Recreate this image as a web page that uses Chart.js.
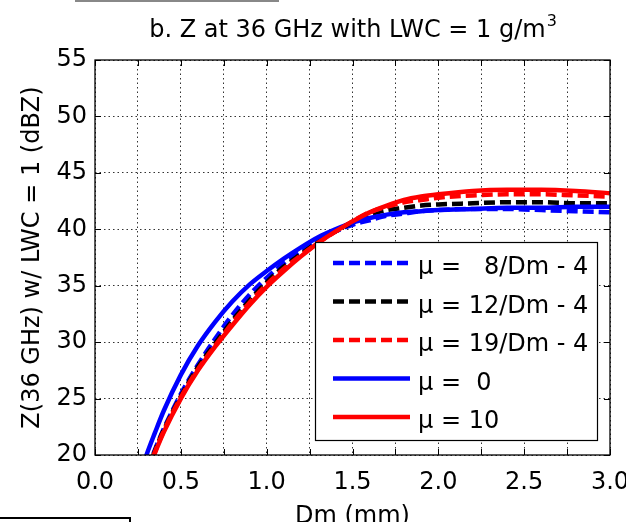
<!DOCTYPE html>
<html>
<head>
<meta charset="utf-8">
<script src="https://cdn.jsdelivr.net/npm/chart.js@4/dist/chart.umd.min.js"></script>
<style>
  html, body { margin: 0; padding: 0; background: #fff; }
  #wrap { width: 626px; height: 522px; position: relative; }
</style>
</head>
<body>
<div id="wrap"><canvas id="zChart" width="626" height="522"></canvas></div>
<script>
// Dm (mm) sample points shared by all curves
const dm = [0.25, 0.3, 0.35, 0.4, 0.5, 0.6, 0.7, 0.8, 0.9, 1.0, 1.1, 1.2, 1.3, 1.4, 1.5,
            1.6, 1.7, 1.8, 1.9, 2.0, 2.2, 2.4, 2.6, 2.8, 3.0];

// Z (dBZ)
const zMu8Dm  = [16.1, 18.5, 20.5, 22.3, 25.4, 28.0, 30.3, 32.4, 34.2, 35.7, 37.0, 38.1, 39.0, 39.8, 40.4,
                 40.8, 41.2, 41.4, 41.6, 41.7, 41.8, 41.8, 41.7, 41.6, 41.5];
const zMu12Dm = [15.9, 18.3, 20.4, 22.2, 25.2, 27.8, 29.9, 31.9, 33.7, 35.3, 36.7, 37.8, 38.9, 39.8, 40.6,
                 41.3, 41.7, 41.9, 42.1, 42.2, 42.3, 42.4, 42.4, 42.3, 42.3];
const zMu19Dm = [15.8, 18.2, 20.3, 22.1, 25.1, 27.6, 29.7, 31.7, 33.5, 35.1, 36.5, 37.7, 38.8, 39.8, 40.7,
                 41.5, 42.0, 42.4, 42.6, 42.8, 43.0, 43.1, 43.1, 43.0, 42.9];
const zMu0    = [17.6, 20.0, 22.0, 23.9, 27.1, 29.7, 31.8, 33.6, 35.1, 36.3, 37.4, 38.4, 39.3, 40.0, 40.6,
                 41.0, 41.3, 41.5, 41.6, 41.7, 41.8, 41.9, 41.9, 42.0, 42.0];
const zMu10   = [15.8, 18.2, 20.2, 22.0, 25.0, 27.5, 29.6, 31.5, 33.3, 34.9, 36.3, 37.6, 38.8, 39.8, 40.7,
                 41.5, 42.1, 42.6, 42.9, 43.1, 43.4, 43.5, 43.5, 43.4, 43.2];

const legendLabels = ["\u03bc =   8/Dm - 4", "\u03bc = 12/Dm - 4", "\u03bc = 19/Dm - 4", "\u03bc =  0", "\u03bc = 10"];
const titleMain = "b. Z at 36 GHz with LWC = 1 g/m";
const titleSup = "3";
const xTitle = "Dm (mm)";
const yTitle = "Z(36 GHz) w/ LWC = 1 (dBZ)";

const FONT = "'DejaVu Sans', sans-serif";
Chart.defaults.font.family = FONT;
Chart.defaults.font.size = 24;
Chart.defaults.color = "#000";

function pts(ys) {
    return dm.map((x, i) => ({ x: x, y: ys[i] }));
}

function line(label, ys, color, dashed, order) {
    return {
        label: label,
        data: pts(ys),
        borderColor: color,
        backgroundColor: color,
        borderWidth: 4.5,
        borderDash: dashed ? [11, 5] : [],
        borderCapStyle: "butt",
        pointRadius: 0,
        fill: false,
        cubicInterpolationMode: "monotone",
        clip: 0,
        order: order,
    };
}

// title, frame with inward ticks, legend box, and the stray crop lines
const matlabLook = {
    id: "matlabLook",
    afterDatasetsDraw(chart) {
        const ctx = chart.ctx;
        const a = chart.chartArea;
        const xs = chart.scales.x;
        const ys = chart.scales.y;
        ctx.save();

        // tick marks pointing inward
        ctx.strokeStyle = "#000";
        ctx.lineWidth = 1;
        ctx.setLineDash([]);
        ctx.beginPath();
        xs.ticks.forEach((t) => {
            const px = Math.round(xs.getPixelForValue(t.value)) + 0.5;
            ctx.moveTo(px, a.bottom); ctx.lineTo(px, a.bottom - 6);
            ctx.moveTo(px, a.top); ctx.lineTo(px, a.top + 6);
        });
        ys.ticks.forEach((t) => {
            const py = Math.round(ys.getPixelForValue(t.value)) + 0.5;
            ctx.moveTo(a.left, py); ctx.lineTo(a.left + 6, py);
            ctx.moveTo(a.right, py); ctx.lineTo(a.right - 6, py);
        });
        ctx.stroke();

        // axes box
        ctx.lineWidth = 1.3;
        ctx.strokeRect(a.left, a.top, a.right - a.left, a.bottom - a.top);

        // legend
        const bx = 315, by = 242, bw = 282, bh = 198;
        ctx.fillStyle = "#fff";
        ctx.fillRect(bx, by, bw, bh);
        ctx.lineWidth = 1.2;
        ctx.strokeStyle = "#000";
        ctx.strokeRect(bx + 0.5, by + 0.5, bw, bh);
        ctx.font = "24px " + FONT;
        ctx.textBaseline = "middle";
        ctx.textAlign = "left";
        chart.data.datasets.forEach((ds, i) => {
            const ry = 263 + i * 38.5;
            ctx.strokeStyle = ds.borderColor;
            ctx.lineWidth = ds.borderWidth;
            ctx.lineCap = "butt";
            ctx.setLineDash(ds.borderDash);
            ctx.beginPath();
            ctx.moveTo(333, ry);
            ctx.lineTo(410, ry);
            ctx.stroke();
            ctx.setLineDash([]);
            ctx.fillStyle = "#000";
            ctx.fillText(legendLabels[i], 418, ry + 5);
        });

        // title centred over the axes
        ctx.font = "24px " + FONT;
        const wMain = ctx.measureText(titleMain).width;
        ctx.font = "16px " + FONT;
        const wSup = ctx.measureText(titleSup).width;
        const cx = (a.left + a.right) / 2;
        const x0 = cx - (wMain + wSup) / 2;
        ctx.textBaseline = "alphabetic";
        ctx.fillStyle = "#000";
        ctx.font = "24px " + FONT;
        ctx.fillText(titleMain, x0, 37);
        ctx.font = "16px " + FONT;
        ctx.fillText(titleSup, x0 + wMain + 1, 26);

        // stray lines left over from the original crop
        ctx.strokeStyle = "#888";
        ctx.lineWidth = 2;
        ctx.beginPath();
        ctx.moveTo(75, 1); ctx.lineTo(279, 1);
        ctx.stroke();
        ctx.strokeStyle = "#000";
        ctx.lineWidth = 2;
        ctx.beginPath();
        ctx.moveTo(0, 518); ctx.lineTo(130, 518); ctx.lineTo(130, 522);
        ctx.stroke();
        ctx.restore();
    },
};

const chart = new Chart(document.getElementById("zChart"), {
    type: "line",
    data: {
        datasets: [
            line(legendLabels[0], zMu8Dm, "#0000ff", true, 5),
            line(legendLabels[1], zMu12Dm, "#000000", true, 4),
            line(legendLabels[2], zMu19Dm, "#ff0000", true, 3),
            line(legendLabels[3], zMu0, "#0000ff", false, 2),
            line(legendLabels[4], zMu10, "#ff0000", false, 1),
        ],
    },
    options: {
        responsive: false,
        animation: false,
        devicePixelRatio: 1,
        layout: { padding: { top: 60, right: 0, bottom: 0, left: 0 } },
        plugins: {
            legend: { display: false },
            title: { display: false },
            tooltip: { enabled: false },
        },
        scales: {
            x: {
                type: "linear",
                min: 0,
                max: 3,
                ticks: {
                    stepSize: 0.25,
                    autoSkip: false,
                    maxRotation: 0,
                    padding: 13,
                    callback: (v) => (Math.abs(v * 2 - Math.round(v * 2)) < 1e-6 ? v.toFixed(1) : ""),
                },
                grid: { color: "#333", lineWidth: 1, drawTicks: false },
                border: { display: false, dash: [1.5, 3] },
                title: { display: true, text: xTitle, padding: { top: 0, bottom: -9 } },
                afterFit(scale) {
                    scale.height = 67;
                    scale.paddingRight = 16;
                },
            },
            y: {
                min: 20,
                max: 55,
                ticks: { stepSize: 5, padding: 8 },
                grid: { color: "#333", lineWidth: 1, drawTicks: false },
                border: { display: false, dash: [1.5, 3] },
                title: { display: true, text: yTitle, padding: 18 },
                afterFit(scale) {
                    scale.width = 95;
                },
            },
        },
    },
    plugins: [matlabLook],
});
</script>
</body>
</html>
